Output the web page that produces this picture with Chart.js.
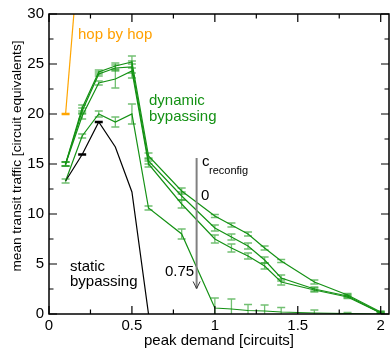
<!DOCTYPE html>
<html>
<head>
<meta charset="utf-8">
<script src="https://cdn.jsdelivr.net/npm/chart.js@4/dist/chart.umd.min.js"></script>
<style>
html,body{margin:0;padding:0;background:#fff;}
#wrap{width:391px;height:353px;}
</style>
</head>
<body>
<div id="wrap"><canvas id="c" width="391" height="353"></canvas></div>
<script>
// ---- data ----
const demand = [0.1,0.2,0.3,0.4,0.5,0.6,0.8,1.0,1.1,1.2,1.3,1.4,1.6,1.8,2.0];
const dyn0    = [15.0,20.6,24.2,24.8,25.2,15.8,12.3,9.8,8.9,8.0,6.6,5.3,3.2,1.9,0.2];
const dyn025  = [15.0,20.3,24.0,24.6,24.7,15.3,11.8,8.6,7.7,6.8,5.4,3.6,2.5,1.8,0.1];
const dyn05   = [15.0,19.8,23.1,23.5,24.3,15.0,11.0,7.5,6.6,5.8,4.8,3.2,2.4,1.7,0.1];
const dyn075  = [13.3,17.8,20.0,19.2,20.0,10.6,8.0,0.6,0.5,0.35,0.3,0.2,0.1,0.05,0.0];
const err0    = [0.2,0.3,0.2,0.3,0.6,0.3,0.3,0.15,0.2,0.2,0.2,0.15,0.2,0.15,0.1];
const err025  = [0.2,0.3,0.2,0.3,0.6,0.3,0.4,0.3,0.3,0.3,0.3,0.3,0.2,0.15,0.1];
const err05   = [0.2,0.3,0.2,0.9,0.7,0.3,0.4,0.4,0.4,0.3,0.3,0.3,0.2,0.15,0.1];
const err075  = [0.2,0.2,0.3,0.5,1.0,0.2,0.5,1.0,1.0,0.6,0.6,0.45,0.3,0.1,0.05];
const staticX = [0.1,0.2,0.3,0.4,0.5,0.6];
const staticY = [13.3,15.95,19.2,16.7,12.2,0.0];
const staticErr = [0,0.05,0.05,0,0,0];
const hopX = [0.1,0.2];
const hopY = [20.0,40.0];
const hopErr = [0.05,0];
const xTicks = [0,0.5,1,1.5,2];
const yTicks = [0,5,10,15,20,25,30];

const GREEN = 'rgb(20,145,20)';
const GREEN_ERR = 'rgba(20,150,20,0.6)';
const FONT = '"Liberation Sans", Arial, sans-serif';

function pts(xs, ys){ return xs.map((x,i)=>({x:x,y:ys[i]})); }

function ds(label, xs, ys, errs, color, errColor){
  return {label, data: pts(xs,ys), errors: errs, errColor: errColor,
    borderColor: color, backgroundColor: color, borderWidth: 1.2,
    pointRadius: 0, tension: 0, fill: false};
}

const errorBars = {
  id: 'errorBars',
  afterDatasetsDraw(chart){
    const ctx = chart.ctx, xs = chart.scales.x, ys = chart.scales.y, a = chart.chartArea;
    ctx.save();
    ctx.beginPath(); ctx.rect(a.left, a.top, a.right-a.left, a.bottom-a.top); ctx.clip();
    chart.data.datasets.forEach(d => {
      if (!d.errors) return;
      ctx.strokeStyle = d.errColor; ctx.lineWidth = 1.3;
      d.data.forEach((p,i) => {
        const e = d.errors[i]; if (!e) return;
        const px = xs.getPixelForValue(p.x);
        const y1 = ys.getPixelForValue(p.y - e), y2 = ys.getPixelForValue(p.y + e);
        ctx.beginPath();
        ctx.moveTo(px, y1); ctx.lineTo(px, y2);
        ctx.moveTo(px-4, y1); ctx.lineTo(px+4, y1);
        ctx.moveTo(px-4, y2); ctx.lineTo(px+4, y2);
        ctx.stroke();
      });
    });
    ctx.restore();
  }
};

const frame = {
  id: 'frame',
  afterDraw(chart){
    const ctx = chart.ctx, xs = chart.scales.x, ys = chart.scales.y, a = chart.chartArea;
    ctx.save();
    ctx.strokeStyle = '#000'; ctx.lineWidth = 1.2;
    ctx.beginPath();
    for (let v = 0; v <= 2.0001; v += 0.25) {
      const px = xs.getPixelForValue(v);
      const major = Math.abs(v*2 - Math.round(v*2)) < 1e-6;
      const L = major ? 8 : 4.5;
      ctx.moveTo(px, a.bottom); ctx.lineTo(px, a.bottom - L);
      ctx.moveTo(px, a.top); ctx.lineTo(px, a.top + L);
    }
    for (let v = 0; v <= 30.001; v += 2.5) {
      const py = ys.getPixelForValue(v);
      const major = Math.abs(v/5 - Math.round(v/5)) < 1e-6;
      const L = major ? 8 : 4.5;
      ctx.moveTo(a.left, py); ctx.lineTo(a.left + L, py);
      ctx.moveTo(a.right, py); ctx.lineTo(a.right - L, py);
    }
    ctx.stroke();
    ctx.lineWidth = 1.5;
    ctx.strokeRect(a.left, a.top, a.right-a.left, a.bottom-a.top);

    // y axis title
    ctx.save();
    ctx.translate(17, 156); ctx.rotate(-Math.PI/2);
    ctx.textAlign = 'center'; ctx.textBaseline = 'middle';
    ctx.fillStyle = '#000'; ctx.font = '13.6px ' + FONT;
    ctx.fillText('mean transit traffic [circuit equivalents]', 0, 0);
    ctx.restore();

    // annotations
    const X = v => xs.getPixelForValue(v), Y = v => ys.getPixelForValue(v);
    ctx.textBaseline = 'alphabetic'; ctx.textAlign = 'left';
    ctx.font = '15px ' + FONT;
    ctx.fillStyle = 'rgb(255,160,0)';
    ctx.fillText('hop by hop', 78, 39);
    ctx.fillStyle = GREEN;
    ctx.fillText('dynamic', 149, 105);
    ctx.fillText('bypassing', 149, 121);
    ctx.fillStyle = '#000';
    ctx.fillText('static', 70, 271);
    ctx.fillText('bypassing', 70, 286);
    ctx.fillText('c', 202, 166);
    ctx.fillText('0', 201, 200);
    ctx.fillText('0.75', 165, 276);
    ctx.font = '11px ' + FONT;
    ctx.fillText('reconfig', 209, 174);
    // arrow
    const ax = X(0.89), ay1 = Y(15.6), ay2 = Y(2.55);
    ctx.strokeStyle = '#808080'; ctx.lineWidth = 2;
    ctx.beginPath(); ctx.moveTo(ax, ay1); ctx.lineTo(ax, ay2); ctx.stroke();
    ctx.strokeStyle = '#333'; ctx.lineWidth = 1;
    ctx.beginPath(); ctx.moveTo(ax-3.5, ay2-7); ctx.lineTo(ax, ay2); ctx.lineTo(ax+3.5, ay2-7); ctx.stroke();
    ctx.restore();
  }
};

new Chart(document.getElementById('c'), {
  type: 'line',
  data: {
    datasets: [
      ds('hop by hop', hopX, hopY, hopErr, 'rgb(255,165,0)', 'rgb(255,165,0)'),
      ds('static', staticX, staticY, staticErr, '#000', '#000'),
      ds('c=0', demand, dyn0, err0, GREEN, GREEN_ERR),
      ds('c=0.25', demand, dyn025, err025, GREEN, GREEN_ERR),
      ds('c=0.5', demand, dyn05, err05, GREEN, GREEN_ERR),
      ds('c=0.75', demand, dyn075, err075, GREEN, GREEN_ERR)
    ]
  },
  options: {
    responsive: false, animation: false,
    layout: {padding: {top: 10, right: 2, left: 0, bottom: 0}},
    plugins: {legend: {display: false}, tooltip: {enabled: false}},
    scales: {
      x: {
        type: 'linear', min: 0, max: 2.05,
        afterFit: s => { s.height = 39; },
        afterBuildTicks: s => { s.ticks = xTicks.map(v => ({value: v})); },
        grid: {display: false, drawTicks: false},
        border: {display: false},
        ticks: {color: '#000', font: {family: FONT, size: 15}, padding: 3, maxRotation: 0,
                callback: v => String(v)},
        title: {display: true, text: 'peak demand [circuits]', color: '#000',
                font: {family: FONT, size: 15}, padding: {top: 0, bottom: 3}}
      },
      y: {
        type: 'linear', min: 0, max: 30,
        afterFit: s => { s.width = 49; },
        afterBuildTicks: s => { s.ticks = yTicks.map(v => ({value: v})); },
        grid: {display: false, drawTicks: false},
        border: {display: false},
        ticks: {color: '#000', font: {family: FONT, size: 15}, padding: 5,
                callback: v => String(v)},
        title: {display: false}
      }
    }
  },
  plugins: [errorBars, frame]
});
</script>
</body>
</html>
